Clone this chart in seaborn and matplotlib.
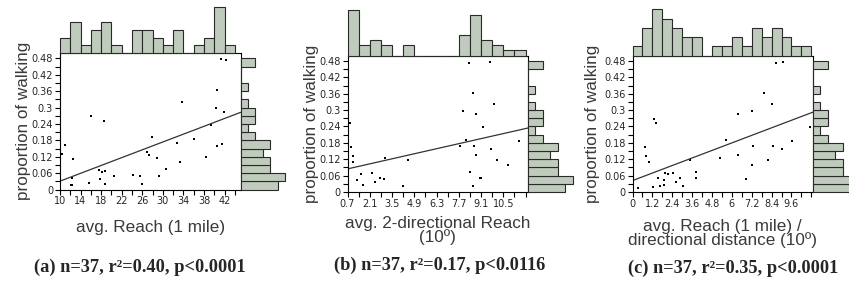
import numpy as np
import matplotlib
matplotlib.use('Agg')
import matplotlib.pyplot as plt
import seaborn as sns

# proportion of walking, same 37 regions in all three panels
walking = [0.016, 0.018, 0.021, 0.021, 0.025,
           0.038, 0.043, 0.048, 0.050, 0.051, 0.053,
           0.065, 0.069, 0.071, 0.074,
           0.100, 0.111, 0.117, 0.119,
           0.126, 0.131, 0.137,
           0.158, 0.164, 0.167, 0.170,
           0.185, 0.192,
           0.237,
           0.251, 0.269,
           0.285, 0.298,
           0.321,
           0.364,
           0.474, 0.477]

# (a) avg. Reach (1 mile)
reach_1mile = [12.1, 12.25, 25.9, 18.7, 15.6,
               17.8, 12.4, 29.3, 25.6, 20.5, 24.2,
               18.1, 18.7, 17.6, 30.7,
               33.3, 12.6, 28.85, 38.3,
               27.35, 10.4, 27.0,
               40.55, 11.0, 41.45, 32.8,
               36.1, 27.95,
               39.4,
               18.5, 16.05,
               41.8, 40.35,
               33.8,
               40.55,
               42.2, 41.25]

# (b) avg. 2-directional Reach (10 deg)
reach_2dir = [0.71, 0.72, 4.22, 8.60, 1.68,
              2.40, 1.29, 2.99, 9.05, 9.08, 2.76,
              1.56, 0.72, 2.23, 8.43,
              10.79, 1.02, 4.50, 10.11,
              3.07, 1.02, 8.75,
              9.75, 0.93, 7.78, 8.68,
              11.48, 8.14,
              9.21,
              0.86, 0.72,
              8.75, 7.99,
              9.94,
              8.60,
              8.37, 9.67]

# (c) avg. Reach (1 mile) / directional distance (10 deg)
reach_per_dist = [0.32, 1.23, 1.67, 3.02, 1.92,
                  2.62, 1.88, 6.85, 1.52, 2.85, 3.86,
                  2.12, 1.98, 2.42, 3.86,
                  7.21, 1.01, 3.49, 8.18,
                  5.26, 0.81, 6.40,
                  9.02, 0.73, 8.46, 7.29,
                  9.62, 5.67,
                  10.73,
                  1.39, 1.31,
                  6.40, 7.23,
                  8.42,
                  7.96,
                  8.68, 9.11]

ytick_vals = [0, 0.06, 0.12, 0.18, 0.24, 0.3, 0.36, 0.42, 0.48]
ytick_labels = ['0', '0.06', '0.12', '0.18', '0.24', '0.3', '0.36', '0.42', '0.48']

xticks_a = [10, 14, 18, 22, 26, 30, 34, 38, 42]
xticks_b = [0.7, 2.1, 3.5, 4.9, 6.3, 7.7, 9.1, 10.5]
xticks_c = [0, 1.2, 2.4, 3.6, 4.8, 6, 7.2, 8.4, 9.6]
xlabels_a = ['10', '14', '18', '22', '26', '30', '34', '38', '42']
xlabels_b = ['0.7', '2.1', '3.5', '4.9', '6.3', '7.7', '9.1', '10.5']
xlabels_c = ['0', '1.2', '2.4', '3.6', '4.8', '6', '7.2', '8.4', '9.6']

captions = ['(a) n=37, r²=0.40, p<0.0001',
            '(b) n=37, r²=0.17, p<0.0116',
            '(c) n=37, r²=0.35, p<0.0001']
xtitles = ['avg. Reach (1 mile)',
           'avg. 2-directional Reach\n(10º)',
           'avg. Reach (1 mile) /\ndirectional distance (10º)']

sns.set_theme(style='white')
plt.rcParams['font.family'] = ['Liberation Sans', 'DejaVu Sans']

W, H = 849, 291
fig = plt.figure(figsize=(W / 100, H / 100), dpi=100)


def box(l, t, w, h):
    return [l / W, 1 - (t + h) / H, w / W, h / H]


bar_face = '#bfcbbc'
bar_edge = '#2a2a2a'

panels = [
    dict(x=reach_1mile, ticks=xticks_a, labels=xlabels_a, lim=(10, 45.1), step=2,
         left=60, top=53, ylab_x=-0.2, xlab_y=-0.28, cap_xy=(140, 267)),
    dict(x=reach_2dir, ticks=xticks_b, labels=xlabels_b, lim=(0.7, 12.05), step=0.7,
         left=347.5, top=55.5, ylab_x=-0.2, xlab_y=-0.285, cap_xy=(440, 265)),
    dict(x=reach_per_dist, ticks=xticks_c, labels=xlabels_c, lim=(0, 10.9), step=0.6,
         left=632.5, top=55.5, ylab_x=-0.22, xlab_y=-0.305, cap_xy=(733, 268)),
]

y_edges = np.round(np.arange(0, 0.481, 0.03), 3)

for p, xtitle, caption in zip(panels, xtitles, captions):
    x_edges = np.round(np.arange(p['lim'][0], p['lim'][1] - 0.1, p['step']), 3)
    ax = fig.add_axes(box(p['left'], p['top'], 180.5, 136.5))
    ax_top = fig.add_axes(box(p['left'], p['top'] - 46, 180.5, 46))
    ax_right = fig.add_axes(box(p['left'] + 180.5, p['top'], 44.5, 136.5))

    ax.set_xlim(*p['lim'])
    ax.set_ylim(0, 0.5)
    sns.regplot(x=p['x'], y=walking, ax=ax, scatter=False, ci=None, truncate=False,
                color='#333333', line_kws={'lw': 0.9})
    sns.scatterplot(x=p['x'], y=walking, ax=ax, marker='s', s=4.5, color='black',
                    linewidth=0, legend=False)
    ax.set_xlim(*p['lim'])
    ax.set_ylim(0, 0.5)

    ax.set_xticks(p['ticks'])
    ax.set_xticklabels(p['labels'])
    ax.set_xticks(x_edges, minor=True)
    ax.set_yticks(ytick_vals)
    ax.set_yticklabels(ytick_labels)
    ax.set_yticks(y_edges, minor=True)
    ax.tick_params(which='both', direction='out', length=3.5, width=0.8,
                   color='black', labelsize=7, pad=1.5, bottom=True, left=True)
    for lab in ax.get_xticklabels() + ax.get_yticklabels():
        lab.set_family('DejaVu Sans')
    for s in ax.spines.values():
        s.set_color('black')
        s.set_linewidth(0.8)

    ax.set_ylabel('proportion of walking', fontsize=12.3, color='#3a3a3a', va='center')
    ax.yaxis.set_label_coords(p['ylab_x'], 0.5)
    ax.set_xlabel(xtitle, fontsize=12.3, color='#3a3a3a', va='center', linespacing=0.85)
    ax.xaxis.set_label_coords(0.5, p['xlab_y'])

    # marginal histograms
    sns.histplot(x=p['x'], bins=x_edges, ax=ax_top, color=bar_face, edgecolor=bar_edge,
                 linewidth=0.8, alpha=1)
    top_max = np.histogram(p['x'], bins=x_edges)[0].max()
    ax_top.set_xlim(*p['lim'])
    ax_top.set_ylim(0, top_max)
    ax_top.axis('off')

    sns.histplot(y=walking, bins=y_edges, ax=ax_right, color=bar_face, edgecolor=bar_edge,
                 linewidth=0.8, alpha=1)
    ax_right.set_ylim(0, 0.5)
    ax_right.set_xlim(0, 6)
    ax_right.axis('off')
    for a in (ax_top, ax_right):
        for patch in a.patches:
            patch.set_clip_on(False)

    fig.text(p['cap_xy'][0] / W, 1 - p['cap_xy'][1] / H, caption, ha='center', va='center',
             family='Liberation Serif', weight='bold', fontsize=13.2)

fig.savefig('out.png', dpi=100)
